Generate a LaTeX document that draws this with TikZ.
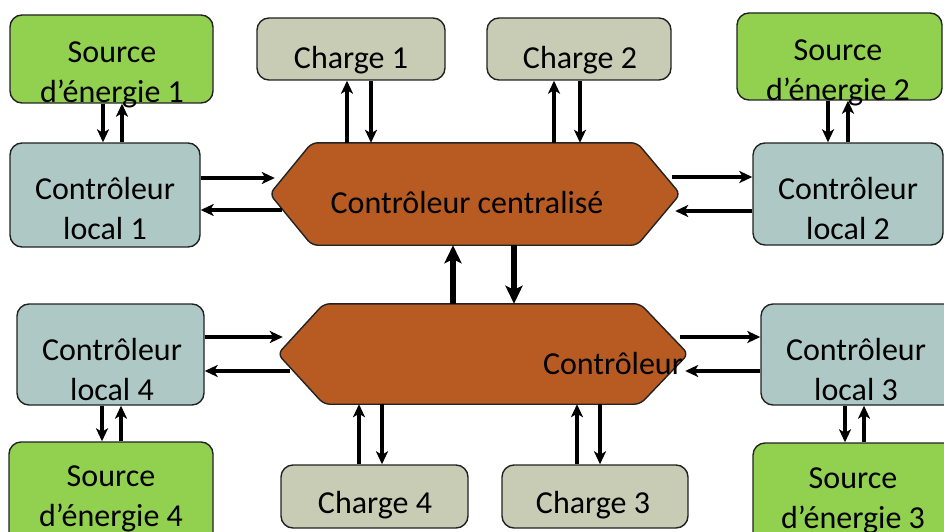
\documentclass[tikz,border=0pt]{standalone}
\usepackage{fontspec}
\setmainfont{Carlito}
\usetikzlibrary{arrows.meta,calc}
\definecolor{srcgreen}{HTML}{92D050}
\definecolor{ctlblue}{HTML}{AEC9C5}
\definecolor{chgtan}{HTML}{C8CCB4}
\definecolor{hexbrown}{HTML}{B75B22}
\definecolor{edge}{HTML}{222222}
\tikzset{
  box/.style={draw=edge, line width=1.4pt, rounded corners=12pt, inner sep=0pt},
  srcbox/.style={box, fill=srcgreen},
  ctlbox/.style={box, fill=ctlblue},
  chgbox/.style={box, fill=chgtan},
  hexshape/.style={draw=edge, line width=1.4pt, fill=hexbrown, rounded corners=6pt},
  txt/.style={align=center, inner sep=0pt, font=\fontsize{32}{40}\selectfont},
  arr/.style={line width=3.2pt, -{Stealth[length=13pt,width=12pt,inset=3.5pt]}},
  bigarr/.style={line width=5.5pt, -{Stealth[length=18pt,width=17pt,inset=4pt]}},
}
\begin{document}
\begin{tikzpicture}[x=1pt,y=-1pt]
\clip (0,0) rectangle (944,532);
\fill[white] (0,0) rectangle (944,532);

% boxes
\node[srcbox, minimum width=203pt, minimum height=88pt] (s1) at (111.5,59) {};
\node[ctlbox, minimum width=190pt, minimum height=104pt] (cl1) at (105,195) {};
\node[chgbox, minimum width=188pt, minimum height=62pt] (c1) at (351,49) {};
\node[chgbox, minimum width=184pt, minimum height=62pt] (c2) at (579,49) {};
\node[srcbox, minimum width=205pt, minimum height=87pt] (s2) at (839.5,56.5) {};
\node[ctlbox, minimum width=190pt, minimum height=102pt] (cl2) at (848,194) {};
\node[ctlbox, minimum width=187pt, minimum height=101pt] (cl4) at (110.5,354.5) {};
\node[srcbox, minimum width=204pt, minimum height=118pt] (s4) at (111,501) {};
\node[chgbox, minimum width=187pt, minimum height=63pt] (c4) at (374.5,496.5) {};
\node[chgbox, minimum width=186pt, minimum height=63pt] (c3) at (595,496.5) {};
\node[ctlbox, minimum width=199pt, minimum height=101pt] (cl3) at (860.5,354.5) {};
\node[srcbox, minimum width=207pt, minimum height=117pt] (s3) at (856.5,501.5) {};

% hexagons
\node[inner sep=0pt, minimum width=410pt, minimum height=102pt] (cc) at (475,194) {};
\filldraw[hexshape] (cc.west) -- ([xshift=42pt]cc.north west) -- ([xshift=-43pt]cc.north east)
  -- (cc.east) -- ([xshift=-43pt]cc.south east) -- ([xshift=42pt]cc.south west) -- cycle;
\node[inner sep=0pt, minimum width=410pt, minimum height=100pt] (bc) at (483,354) {};
\filldraw[hexshape] (bc.west) -- ([xshift=46pt]bc.north west) -- ([xshift=-48pt]bc.north east)
  -- (bc.east) -- ([xshift=-48pt]bc.south east) -- ([xshift=46pt]bc.south west) -- cycle;

% texts
\node[txt] (s1t) at (112,75) {Source\\d’énergie 1};
\node[txt] (cl1t) at (105,209) {Contrôleur\\local 1};
\node[txt] (c1t) at (351,60) {Charge 1};
\node[txt] (c2t) at (580,60) {Charge 2};
\node[txt] (s2t) at (838,72.5) {Source\\d’énergie 2};
\node[txt] (cl2t) at (848,209) {Contrôleur\\local 2};
\node[txt] (cct) at (467,203) {Contrôleur centralisé};
\node[txt] (bct) at (613,364) {Contrôleur};
\node[txt] (cl4t) at (112,370) {Contrôleur\\local 4};
\node[txt] (cl3t) at (856,370) {Contrôleur\\local 3};
\node[txt] (s4t) at (111,499) {Source\\d’énergie 4};
\node[txt] (s3t) at (853,501) {Source\\d’énergie 3};
\node[txt] (c4t) at (375,505) {Charge 4};
\node[txt] (c3t) at (593,505) {Charge 3};

% source 1 <-> local 1
\draw[arr] ([xshift=-8.5pt]s1.south) -- ([xshift=-8.5pt]s1.south |- cl1.north);
\draw[arr] ([xshift=10.5pt]s1.south |- cl1.north) -- ([xshift=10.5pt]s1.south);
% local 1 <-> centralise
\draw[arr] ([yshift=17pt]cl1.east) -- ([yshift=17pt,xshift=5pt]cl1.east -| cc.west);
\draw[arr] ([yshift=-15pt,xshift=12pt]cl1.east -| cc.west) -- ([yshift=-15pt]cl1.east);
% charges 1,2
\draw[arr] ([xshift=-4pt]c1.south |- cc.north) -- ([xshift=-4pt]c1.south);
\draw[arr] ([xshift=20pt]c1.south) -- ([xshift=20pt]c1.south |- cc.north);
\draw[arr] ([xshift=-25pt]c2.south |- cc.north) -- ([xshift=-25pt]c2.south);
\draw[arr] ([xshift=1pt]c2.south) -- ([xshift=1pt]c2.south |- cc.north);
% source 2 <-> local 2
\draw[arr] ([xshift=-11.5pt]s2.south) -- ([xshift=-11.5pt]s2.south |- cl2.north);
\draw[arr] ([xshift=8.5pt]s2.south |- cl2.north) -- ([xshift=8.5pt]s2.south);
% centralise <-> local 2
\draw[arr] ([yshift=17pt,xshift=-8pt]cl2.west -| cc.east) -- ([yshift=17pt]cl2.west);
\draw[arr] ([yshift=-17pt]cl2.west) -- ([yshift=-17pt,xshift=-5pt]cl2.west -| cc.east);
% centralise <-> bottom hexagon
\draw[bigarr] ([xshift=-30pt]bc.north) -- ([xshift=-30pt]bc.north |- cc.south);
\draw[bigarr] ([xshift=31pt]bc.north |- cc.south) -- ([xshift=31pt]bc.north);
% local 4 <-> bottom hexagon
\draw[arr] ([yshift=17.5pt]cl4.east) -- ([yshift=17.5pt,xshift=5pt]cl4.east -| bc.west);
\draw[arr] ([yshift=-16.5pt,xshift=12pt]cl4.east -| bc.west) -- ([yshift=-16.5pt]cl4.east);
% local 4 <-> source 4
\draw[arr] ([xshift=-8.5pt]cl4.south) -- ([xshift=-8.5pt]cl4.south |- s4.north);
\draw[arr] ([xshift=10.5pt]cl4.south |- s4.north) -- ([xshift=10.5pt]cl4.south);
% bottom hexagon <-> local 3
\draw[arr] ([yshift=17.5pt,xshift=-8pt]cl3.west -| bc.east) -- ([yshift=17.5pt]cl3.west);
\draw[arr] ([yshift=-16.5pt]cl3.west) -- ([yshift=-16.5pt,xshift=-3pt]cl3.west -| bc.east);
% local 3 <-> source 3
\draw[arr] ([xshift=-15.5pt]cl3.south) -- ([xshift=-15.5pt]cl3.south |- s3.north);
\draw[arr] ([xshift=3.5pt]cl3.south |- s3.north) -- ([xshift=3.5pt]cl3.south);
% charges 4,3
\draw[arr] ([xshift=-15.5pt]c4.north) -- ([xshift=-15.5pt]c4.north |- bc.south);
\draw[arr] ([xshift=7.5pt]c4.north |- bc.south) -- ([xshift=7.5pt]c4.north);
\draw[arr] ([xshift=-18pt]c3.north) -- ([xshift=-18pt]c3.north |- bc.south);
\draw[arr] ([xshift=5pt]c3.north |- bc.south) -- ([xshift=5pt]c3.north);
\end{tikzpicture}
\end{document}
